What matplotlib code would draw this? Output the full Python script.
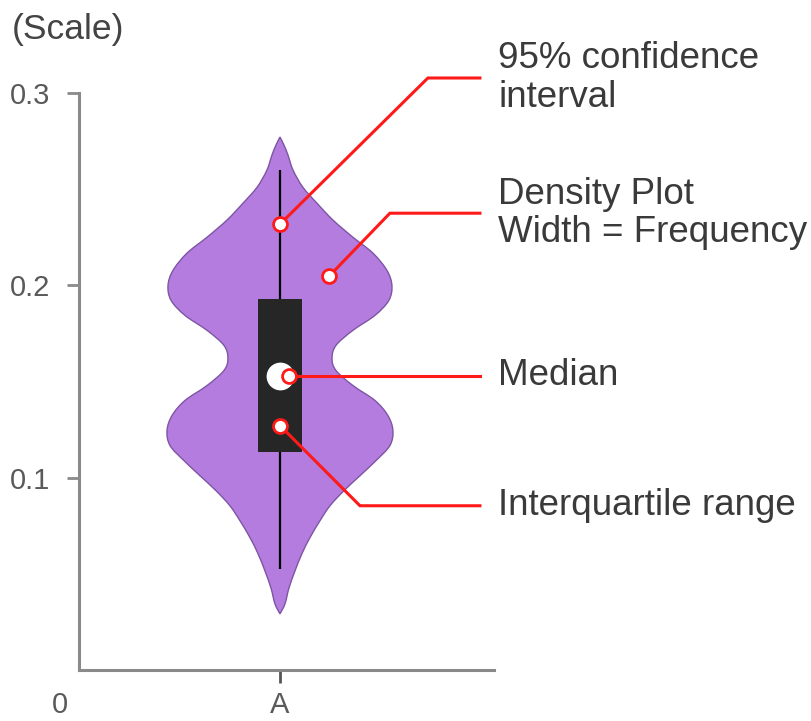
import matplotlib
matplotlib.use("Agg")
import matplotlib.pyplot as plt
from matplotlib.path import Path
from matplotlib.patches import PathPatch, Rectangle
import numpy as np

plt.rcParams['font.family'] = ['Liberation Sans', 'DejaVu Sans']

# ---- data ----
category = ["A"]
# violin outline profile: value levels and half-widths
profile_y = [0.2771, 0.2729, 0.2677, 0.2599, 0.2510, 0.2427, 0.2339, 0.2250,
             0.2167, 0.2078, 0.2000, 0.1922, 0.1844, 0.1766, 0.1688, 0.1620,
             0.1557, 0.1479, 0.1401, 0.1323, 0.1245, 0.1167, 0.1089, 0.1010,
             0.0932, 0.0854, 0.0776, 0.0688, 0.0604, 0.0516, 0.0427, 0.0344,
             0.0292]
profile_w = [0.000, 0.020, 0.040, 0.065, 0.114, 0.184, 0.264, 0.363,
             0.463, 0.532, 0.557, 0.542, 0.473, 0.363, 0.279, 0.259,
             0.279, 0.363, 0.473, 0.537, 0.562, 0.547, 0.478, 0.398,
             0.318, 0.249, 0.199, 0.149, 0.109, 0.075, 0.045, 0.025,
             0.000]
q1, median, q3 = 0.1135, 0.1528, 0.1930
whisker_low, whisker_high = 0.0526, 0.2599
yticks = [0.1, 0.2, 0.3]
ytick_labels = ["0.1", "0.2", "0.3"]

# annotation guides: (marker point, elbow point, label)
ann_labels = ["95% confidence\ninterval", "Density Plot\nWidth = Frequency",
              "Median", "Interquartile range"]
ann_marker = [(0.0, 0.2318), (0.244, 0.2047), (0.045, 0.1531), (0.0, 0.1271)]
ann_elbow = [(0.736, 0.3078), (0.547, 0.2375), (0.3, 0.1531), (0.398, 0.0854)]
ann_end_x = 0.995
ann_text_x = 1.085

W, H = 812, 721
fig = plt.figure(figsize=(W / 100, H / 100), dpi=100)
ax = fig.add_axes([79 / W, 1 - 670 / H, (494 - 79) / W, (670 - 93) / H])

violin_color = "#b47cdf"
edge_color = "#7d55a3"
axis_gray = "#8a8a8a"
tick_text = "#5a5a5a"
text_col = "#3a3a3a"
red = "#ff1a1a"

x0 = 0


def smooth_segments(pts):
    """Bezier (Catmull-Rom) segments through the given outline points."""
    pts = np.asarray(pts, dtype=float)
    ext = np.vstack([pts[0], pts, pts[-1]])
    verts, codes = [], []
    for i in range(1, len(ext) - 2):
        p0, p1, p2, p3 = ext[i - 1], ext[i], ext[i + 1], ext[i + 2]
        c1 = p1 + (p2 - p0) / 6.0
        c2 = p2 - (p3 - p1) / 6.0
        verts += [tuple(c1), tuple(c2), tuple(p2)]
        codes += [Path.CURVE4] * 3
    return verts, codes


py = np.array(profile_y)
pw = np.array(profile_w)
right = np.column_stack([x0 + pw, py])
left = np.column_stack([x0 - pw, py])[::-1]
v1, c1 = smooth_segments(right)
v2, c2 = smooth_segments(left)
verts = [tuple(right[0])] + v1 + v2 + [tuple(right[0])]
codes = [Path.MOVETO] + c1 + c2 + [Path.CLOSEPOLY]
ax.add_patch(PathPatch(Path(verts, codes), facecolor=violin_color,
                       edgecolor=edge_color, linewidth=1.0, zorder=2))

# whisker
ax.plot([x0, x0], [whisker_low, whisker_high], color="black", lw=1.6, zorder=3,
        solid_capstyle='butt')
# box
bw = 0.108
ax.add_patch(Rectangle((x0 - bw, q1), 2 * bw, q3 - q1, facecolor="#262626",
                       edgecolor="none", zorder=4))
# median dot
ax.plot([x0], [median], 'o', ms=20, color="white", mec="none", zorder=5)

# annotations
for lab, (mx, my), (ex, ey) in zip(ann_labels, ann_marker, ann_elbow):
    ax.plot([mx, ex, ann_end_x], [my, ey, ey], color=red, lw=2.2, zorder=6,
            clip_on=False, solid_joinstyle='miter')
    ax.plot([mx], [my], 'o', ms=10, mfc="white", mec=red, mew=2.0, zorder=7,
            clip_on=False)
    ax.text(ann_text_x, ey, lab, fontsize=26.5, color=text_col, va='center',
            ha='left', linespacing=1.12, clip_on=False)

ax.set_xlim(-1, 1.065)
ax.set_ylim(0, 0.3)
for s in ["top", "right"]:
    ax.spines[s].set_visible(False)
for s in ["left", "bottom"]:
    ax.spines[s].set_color(axis_gray)
    ax.spines[s].set_linewidth(2.2)
    ax.spines[s].set_capstyle('projecting')

ax.set_yticks(yticks)
ax.set_yticklabels(ytick_labels)
ax.set_xticks([x0])
ax.set_xticklabels(category)
ax.tick_params(axis='y', length=8.6, width=2.0, color=axis_gray,
               labelcolor=tick_text, labelsize=21, pad=12)
ax.tick_params(axis='x', length=9.0, width=2.0, color="#555555",
               labelcolor=tick_text, labelsize=21, pad=6)

fig.text(60 / W, 1 - 705 / H, "0", fontsize=21, color=tick_text,
         ha='center', va='center')
fig.text(12 / W, 1 - 30 / H, "(Scale)", fontsize=25.5, color="#444444",
         ha='left', va='center')

fig.savefig("out.png", dpi=100)
